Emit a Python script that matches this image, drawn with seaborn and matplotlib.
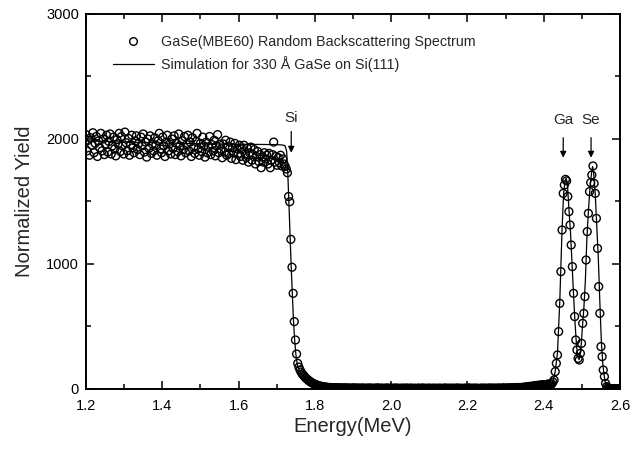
import numpy as np
import pandas as pd
import matplotlib
matplotlib.use("Agg")
import matplotlib.pyplot as plt
from matplotlib.lines import Line2D
from matplotlib.ticker import MultipleLocator
import seaborn as sns

# detector calibration (MeV per channel) and energy of first channel
first_energy = 1.200
channel_width = 0.003

plateau_counts = [
    2035, 1905, 1990, 1870, 2010, 1950, 2050, 1890, 1965, 2020, 1860, 1985, 1930, 2045, 1905,
    2000, 1875, 1960, 2030, 1895, 1980, 2040, 1880, 1945, 2015, 1920, 1865, 1995, 1960, 2045,
    1900, 2020, 1945, 1880, 2055, 1970, 1905, 2005, 1870, 1955, 2030, 1930, 1890, 1985, 2025,
    1915, 1965, 1875, 2015, 1945, 2040, 1895, 1975, 1855, 2000, 1925, 2025, 1885, 1960, 1905,
    2010, 1950, 1870, 1985, 2045, 1920, 1890, 2015, 1945, 1860, 1975, 2030, 1905, 1960, 1880,
    2000, 1925, 2025, 1875, 1965, 1900, 2040, 1945, 1865, 1985, 1915, 2020, 1890, 1955, 2030,
    1905, 1975, 1860, 2010, 1935, 1885, 1980, 2045, 1920, 1870, 1965, 1900, 2015, 1945, 1855,
    1975, 1890, 1935, 2020, 1875, 1955, 1905, 1990, 1865, 1945, 2035, 1890, 1960, 1920, 1850,
    1960, 1895, 1990, 1870, 1940, 1885, 1975, 1845, 1930, 1890, 1965, 1835, 1920, 1880, 1950,
    1860, 1920, 1830, 1950, 1880, 1850, 1925, 1815, 1890, 1935, 1830, 1875, 1915, 1800, 1860,
    1900, 1820, 1875, 1770, 1855, 1815, 1890, 1840, 1870, 1800, 1885, 1770, 1830, 1875, 1975,
    1815, 1860, 1790, 1850, 1810, 1870, 1785, 1840, 1800, 1780, 1760, 1730,
]
edge_counts = [
    1540, 1498, 1197, 974, 765, 539, 392, 280, 205, 175,
    152, 135, 120, 110, 98, 88, 80, 72, 65, 58,
    52, 46, 42, 38, 34, 30, 27, 24, 22, 20, 18,
]
background_counts = [
    16, 15, 13, 14, 11, 12, 10, 11, 9, 10, 8, 9, 10, 7, 8, 9, 6, 8, 7, 9,
    6, 7, 8, 5, 7, 6, 9, 5, 6, 8, 4, 7, 6, 5, 8, 6, 4, 7, 5, 6,
    8, 5, 6, 4, 7, 5, 6, 9, 4, 5, 7, 6, 3, 6, 5, 8, 4, 6, 5, 7,
    4, 6, 5, 8, 3, 6, 5, 4, 7, 5, 6, 3, 8, 5, 4, 6, 7, 4, 5, 6,
    5, 3, 7, 6, 4, 5, 8, 4, 6, 5, 3, 7, 5, 6, 4, 5, 7, 3, 6, 5,
    4, 7, 5, 3, 6, 5, 8, 4, 5, 6, 3, 7, 4, 6, 5, 4, 8, 5, 6, 4,
    6, 5, 3, 7, 5, 4, 6, 8, 5, 4, 6, 5, 7, 4, 6, 5, 3, 6, 7, 5,
    5, 7, 4, 6, 5, 8, 4, 6, 7, 5, 6, 4, 8, 6, 5, 7, 6, 9, 5, 7,
    8, 6, 9, 7, 10, 8, 7, 11, 9, 10, 12, 9, 11, 13, 12, 14, 16, 13, 18, 20,
    17, 22, 19, 25, 21, 28, 24, 30, 26, 32, 29, 35, 31, 26, 34, 38, 30, 42, 36,
]
peak_counts = [
    40, 55, 72, 139, 205, 272, 459, 685, 939, 1272,
    1565, 1632, 1677, 1665, 1540, 1419, 1312, 1152, 979, 765,
    579, 392, 312, 245, 232, 285, 365, 525, 605, 739,
    1032, 1259, 1405, 1579, 1651, 1712, 1784, 1645, 1565, 1365,
    1125, 819, 605, 339, 259, 152, 99, 45, 19, 10,
    6, 4, 3, 2, 3, 2, 1, 2, 1, 2,
]

# simulated spectrum (330 A GaSe on Si(111))
sim_energy = [
    1.200, 1.250, 1.300, 1.400, 1.500, 1.600, 1.700, 1.715, 1.722, 1.726,
    1.729, 1.732, 1.735, 1.738, 1.741, 1.744, 1.747, 1.750, 1.754, 1.760,
    1.770, 1.785, 1.800, 1.820, 1.850, 1.900, 2.000, 2.100, 2.200, 2.300,
    2.350, 2.400, 2.415, 2.424, 2.430, 2.436, 2.442, 2.448, 2.452, 2.456,
    2.459, 2.462, 2.466, 2.470, 2.474, 2.478, 2.482, 2.486, 2.490, 2.493,
    2.497, 2.501, 2.505, 2.509, 2.513, 2.517, 2.521, 2.525, 2.528, 2.531,
    2.535, 2.539, 2.543, 2.547, 2.551, 2.555, 2.560, 2.566, 2.575, 2.600,
]
sim_yield = [
    1985, 1980, 1975, 1968, 1962, 1958, 1955, 1952, 1945, 1900,
    1720, 1480, 1220, 970, 750, 540, 390, 280, 190, 140,
    100, 65, 40, 20, 8, 4, 3, 3, 3, 4,
    6, 12, 25, 55, 140, 290, 700, 1280, 1560, 1670,
    1685, 1640, 1440, 1260, 1010, 760, 530, 340, 250, 235,
    300, 480, 640, 860, 1200, 1420, 1600, 1720, 1780, 1720,
    1560, 1300, 1050, 700, 380, 190, 70, 15, 3, 0,
]

# element markers: label, energy, text height, arrow top, arrow tip
markers = [("Si", 1.738, 2170, 2060, 1890),
           ("Ga", 2.451, 2150, 2010, 1850),
           ("Se", 2.524, 2150, 2010, 1850)]


def make_plot():
    sns.set_theme(style="ticks")
    plt.rcParams["font.family"] = ["Liberation Sans", "DejaVu Sans"]

    counts = plateau_counts + edge_counts + background_counts + peak_counts
    energy = first_energy + channel_width * np.arange(len(counts))
    data = pd.DataFrame({"Energy": energy, "Yield": counts})
    sim = pd.DataFrame({"Energy": sim_energy, "Yield": sim_yield})

    fig = plt.figure(figsize=(6.42, 4.5), dpi=100)
    ax = fig.add_axes([0.134, 0.1356, 0.8318, 0.8333])

    sns.lineplot(data=sim, x="Energy", y="Yield", ax=ax, color="black",
                 linewidth=0.9, zorder=2)
    sns.scatterplot(data=data, x="Energy", y="Yield", ax=ax, s=32,
                    facecolor="none", edgecolor="black", linewidth=1.0,
                    legend=False, zorder=3)

    for label, x, ytext, ytop, ytip in markers:
        ax.annotate("", xy=(x, ytip), xytext=(x, ytop),
                    arrowprops=dict(arrowstyle="-|>", color="black", lw=0.9,
                                    mutation_scale=9, shrinkA=0, shrinkB=0))
        ax.text(x, ytext, label, ha="center", va="center", fontsize=11)

    ax.set_xlim(1.2, 2.6)
    ax.set_ylim(0, 3000)
    ax.xaxis.set_major_locator(MultipleLocator(0.2))
    ax.xaxis.set_minor_locator(MultipleLocator(0.1))
    ax.yaxis.set_major_locator(MultipleLocator(1000))
    ax.yaxis.set_minor_locator(MultipleLocator(500))
    ax.xaxis.set_major_formatter(plt.FuncFormatter(lambda v, p: f"{v:.1f}"))
    ax.tick_params(which="both", direction="in", top=True, right=True,
                   colors="black", labelsize=10.5, width=1.1)
    ax.tick_params(which="major", length=6)
    ax.tick_params(axis="x", which="major", pad=7)
    ax.tick_params(axis="y", which="major", pad=5)
    ax.tick_params(which="minor", length=3.5)
    for s in ax.spines.values():
        s.set_linewidth(1.4)
        s.set_color("black")

    ax.set_xlabel("Energy(MeV)", fontsize=14.5, labelpad=3)
    ax.set_ylabel("Normalized Yield", fontsize=14.5, labelpad=9)

    handles = [
        Line2D([], [], linestyle="none", marker="o", markersize=5.5,
               markerfacecolor="none", markeredgecolor="black",
               markeredgewidth=1.0),
        Line2D([], [], color="black", linewidth=0.9),
    ]
    ax.legend(handles,
              ["GaSe(MBE60) Random Backscattering Spectrum",
               "Simulation for 330 \u00c5 GaSe on Si(111)"],
              loc="upper left", bbox_to_anchor=(0.05, 0.945), frameon=False,
              fontsize=10.3, handlelength=2.9, handletextpad=0.45,
              borderpad=0, borderaxespad=0, labelspacing=0.5, numpoints=1)

    fig.savefig("out.png", dpi=100)
    plt.close(fig)


if __name__ == "__main__":
    make_plot()
